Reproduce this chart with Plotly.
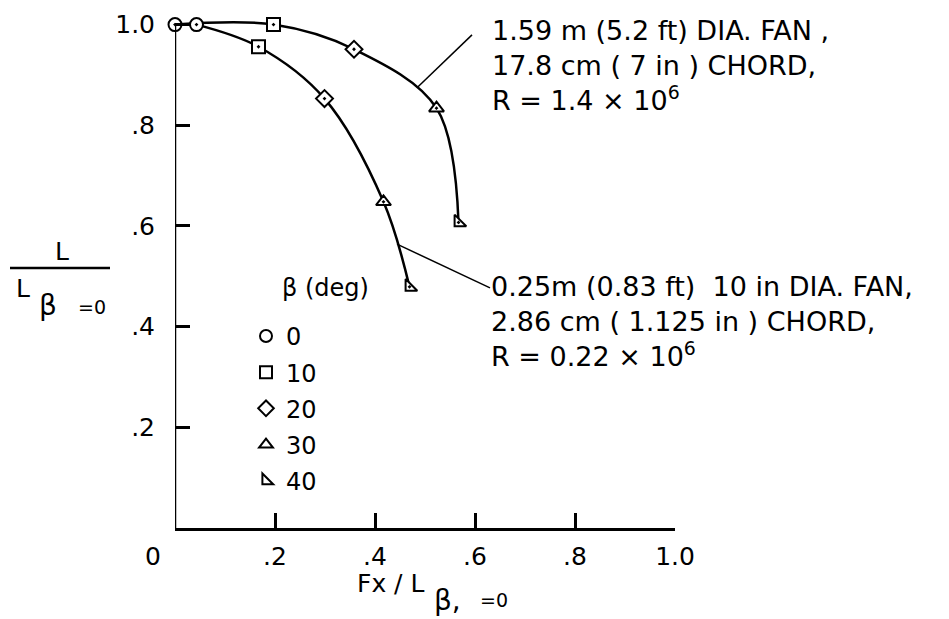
import plotly.graph_objects as go

# ---- data ----
beta_deg = [0, 10, 20, 30, 40]
beta_symbols = ["circle", "square", "diamond", "triangle-up", "triangle-sw"]

# 1.59 m (5.2 ft) dia. fan, 17.8 cm chord, R = 1.4e6
x_large = [0.0, 0.197, 0.358, 0.523, 0.567]
y_large = [1.0, 1.0, 0.951, 0.834, 0.607]

# 0.25 m (0.83 ft) 10 in dia. fan, 2.86 cm chord, R = 0.22e6
x_small = [0.043, 0.167, 0.299, 0.417, 0.469]
y_small = [1.0, 0.956, 0.853, 0.648, 0.479]

x_ticks = [0.2, 0.4, 0.6, 0.8, 1.0]
x_ticktext = [".2", ".4", ".6", ".8", "1.0"]
y_ticks = [0.2, 0.4, 0.6, 0.8, 1.0]
y_ticktext = [".2", ".4", ".6", ".8", "1.0"]

FONT = "DejaVu Sans"
FS = 25
AFS = 27
BLACK = "black"

# page offset (browser body margin)
OFF = 8
W, H = 949, 619
YMAX = 1.025
# plot area in figure pixels
L, R, T, B = 167, 282, 2, 99
PW, PH = W - L - R, H - T - B


def px(xp):
    """page pixel x -> paper x"""
    return (xp - OFF - L) / PW


def py(yp):
    """page pixel y -> paper y"""
    return (H - B - (yp - OFF)) / PH


def txt(x, y, s, size=FS, **kw):
    d = dict(x=px(x), y=py(y), xref="paper", yref="paper", text=s, showarrow=False,
             xanchor="center", yanchor="middle",
             font=dict(family=FONT, size=size, color=BLACK))
    d.update(kw)
    return d


fig = go.Figure()

for xs, ys in ((x_large, y_large), (x_small, y_small)):
    fig.add_trace(go.Scatter(
        x=xs, y=ys, mode="lines",
        line=dict(color=BLACK, width=2.5, shape="spline", smoothing=1.0),
        showlegend=False, hoverinfo="skip"))

for i, b in enumerate(beta_deg):
    # data markers (with centre dot)
    fig.add_trace(go.Scatter(
        x=[x_large[i], x_small[i]], y=[y_large[i], y_small[i]],
        mode="markers", name=str(b), legendgroup=str(b), showlegend=False,
        marker=dict(symbol=beta_symbols[i] + "-dot", size=13, color="white",
                    line=dict(color=BLACK, width=2)),
        cliponaxis=False))
    # legend key (plain open symbol)
    fig.add_trace(go.Scatter(
        x=[None], y=[None], mode="markers", name=str(b), legendgroup=str(b),
        marker=dict(symbol=beta_symbols[i], size=13, color="white",
                    line=dict(color=BLACK, width=2)),
        hoverinfo="skip"))

axis_common = dict(
    ticks="inside", ticklen=15, tickwidth=2.5, tickcolor=BLACK,
    showgrid=False, zeroline=False, fixedrange=True,
    tickfont=dict(family=FONT, size=FS, color=BLACK),
)

fig.update_xaxes(range=[0, 1], showline=True, linecolor=BLACK, linewidth=2.5,
                 tickvals=x_ticks, ticktext=x_ticktext, ticklabelstandoff=4, **axis_common)
fig.update_yaxes(range=[0, YMAX], showline=False,
                 tickvals=y_ticks, ticktext=y_ticktext, ticklabelstandoff=19, **axis_common)

ann = [
    # origin label
    txt(153, 557, "0"),
    # legend title
    txt(280, 287, "β (deg)", size=24, xanchor="left"),
    # curve labels
    txt(490, 11, "1.59 m (5.2 ft) DIA. FAN ,<br>17.8 cm ( 7 in ) CHORD,<br>R = 1.4 × 10<sup>6</sup>",
        size=AFS, xanchor="left", yanchor="top", align="left"),
    txt(489, 268, "0.25m (0.83 ft)  10 in DIA. FAN,<br>2.86 cm ( 1.125 in ) CHORD,<br>R = 0.22 × 10<sup>6</sup>",
        size=AFS, xanchor="left", yanchor="top", align="left"),
    # y-axis title (fraction)
    txt(62, 250, "L"),
    txt(23, 288, "L"),
    txt(48, 305, "β", size=28),
    txt(92, 306, "=0", size=19),
    # x-axis title
    txt(390, 584, "Fx / L"),
    txt(447, 601, "β,", size=28),
    txt(494, 600, "=0", size=19),
]

shapes = [
    # y axis line (ends at 1.0)
    dict(type="line", xref="x", yref="y", x0=0, x1=0, y0=0, y1=1,
         line=dict(color=BLACK, width=2.5)),
    # fraction bar of y title
    dict(type="line", xref="paper", yref="paper", x0=px(10), x1=px(110), y0=py(267), y1=py(267),
         line=dict(color=BLACK, width=2.5)),
    # leader lines
    dict(type="line", xref="paper", yref="paper", x0=px(417), y0=py(86), x1=px(472), y1=py(33),
         line=dict(color=BLACK, width=1.5)),
    dict(type="line", xref="paper", yref="paper", x0=px(397), y0=py(243), x1=px(490), y1=py(287),
         line=dict(color=BLACK, width=1.5)),
]

fig.update_layout(
    width=W, height=H,
    margin=dict(l=L, r=R, t=T, b=B, pad=0),
    paper_bgcolor="white", plot_bgcolor="white",
    font=dict(family=FONT, size=FS, color=BLACK),
    showlegend=True,
    legend=dict(x=px(246), y=py(313), xanchor="left", yanchor="top",
                bgcolor="rgba(0,0,0,0)", borderwidth=0,
                font=dict(family=FONT, size=24, color=BLACK),
                itemsizing="constant", tracegroupgap=2, traceorder="grouped"),
    annotations=ann, shapes=shapes,
)

fig.write_html("out.html")
